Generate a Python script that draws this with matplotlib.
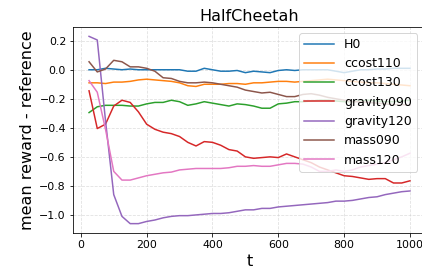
import numpy as np
import matplotlib
matplotlib.use("Agg")
import matplotlib.pyplot as plt

# timesteps (every 25)
t = [25, 50, 75, 100, 125, 150, 175, 200, 225, 250, 275, 300, 325, 350, 375, 400,
     425, 450, 475, 500, 525, 550, 575, 600, 625, 650, 675, 700, 725, 750, 775, 800,
     825, 850, 875, 900, 925, 950, 975, 1000]

h0 = [0.0, 0.0, 0.01, 0.005, 0.0, 0.005, 0.0, 0.0, 0.0, 0.0, 0.0, 0.0, -0.01, -0.01,
      0.01, 0.0, -0.01, -0.01, -0.005, -0.02, -0.01, -0.015, -0.02, -0.005, 0.0, -0.005,
      0.0, 0.0, 0.0, 0.0, -0.01, -0.02, -0.01, 0.0, 0.0, 0.005, 0.005, 0.01, 0.01, 0.01]
ccost110 = [-0.09, -0.09, -0.095, -0.085, -0.085, -0.08, -0.07, -0.065, -0.07, -0.075,
            -0.08, -0.09, -0.11, -0.115, -0.1, -0.1, -0.1, -0.095, -0.095, -0.1, -0.09,
            -0.09, -0.085, -0.08, -0.08, -0.085, -0.08, -0.075, -0.07, -0.065, -0.07,
            -0.075, -0.08, -0.085, -0.09, -0.09, -0.095, -0.1, -0.105, -0.11]
ccost130 = [-0.295, -0.255, -0.245, -0.245, -0.245, -0.25, -0.25, -0.235, -0.225, -0.225,
            -0.21, -0.22, -0.245, -0.235, -0.22, -0.23, -0.24, -0.25, -0.235, -0.24,
            -0.25, -0.265, -0.265, -0.235, -0.23, -0.22, -0.22, -0.215, -0.21, -0.21,
            -0.215, -0.22, -0.22, -0.215, -0.21, -0.215, -0.22, -0.22, -0.215, -0.21]
gravity090 = [-0.145, -0.405, -0.375, -0.25, -0.21, -0.225, -0.29, -0.375, -0.41, -0.43,
              -0.44, -0.46, -0.5, -0.525, -0.495, -0.5, -0.52, -0.55, -0.56, -0.6, -0.61,
              -0.605, -0.6, -0.605, -0.58, -0.6, -0.62, -0.64, -0.67, -0.69, -0.71, -0.73,
              -0.735, -0.745, -0.755, -0.75, -0.75, -0.78, -0.78, -0.765]
gravity120 = [0.23, 0.205, -0.35, -0.86, -1.01, -1.06, -1.06, -1.045, -1.035, -1.02, -1.01,
              -1.005, -1.005, -1.0, -0.995, -0.99, -0.99, -0.985, -0.975, -0.965, -0.965,
              -0.955, -0.955, -0.945, -0.94, -0.935, -0.93, -0.925, -0.92, -0.915, -0.905,
              -0.905, -0.9, -0.89, -0.88, -0.875, -0.86, -0.85, -0.84, -0.835]
mass090 = [0.055, -0.015, 0.005, 0.065, 0.055, 0.02, 0.02, 0.01, -0.01, -0.055, -0.06,
           -0.08, -0.09, -0.09, -0.085, -0.09, -0.1, -0.11, -0.12, -0.14, -0.15, -0.16,
           -0.155, -0.17, -0.185, -0.185, -0.17, -0.165, -0.175, -0.19, -0.2, -0.21,
           -0.22, -0.22, -0.225, -0.23, -0.235, -0.24, -0.24, -0.245]
mass120 = [-0.075, -0.155, -0.41, -0.70, -0.76, -0.76, -0.745, -0.73, -0.72, -0.71, -0.705,
           -0.69, -0.685, -0.68, -0.68, -0.68, -0.68, -0.675, -0.665, -0.665, -0.66, -0.665,
           -0.665, -0.655, -0.645, -0.645, -0.65, -0.67, -0.70, -0.70, -0.69, -0.70, -0.69,
           -0.67, -0.66, -0.65, -0.64, -0.62, -0.60, -0.575]

series = [("H0", h0), ("ccost110", ccost110), ("ccost130", ccost130),
          ("gravity090", gravity090), ("gravity120", gravity120),
          ("mass090", mass090), ("mass120", mass120)]

W, H = 422, 277
fig = plt.figure(figsize=(W / 72, H / 72), dpi=72)
ax = fig.add_axes([73 / W, 44 / H, 353 / W, 206 / H])

for name, vals in series:
    ax.plot(t, vals, label=name, linewidth=1.5)

ax.grid(True, linestyle='--', color='#cccccc', alpha=0.6)
ax.tick_params(labelsize=11)
ax.set_title("HalfCheetah", fontsize=16)
ax.set_xlabel("t", fontsize=16)
ax.set_ylabel("mean reward - reference", fontsize=16)
# legend pinned so its right border stays inside the picture, like the original
ax.legend(loc='upper right', fontsize=12.5, handlelength=2.4,
          bbox_to_anchor=(417 / W, 1 - 33 / H), bbox_transform=fig.transFigure,
          borderaxespad=0)

fig.savefig("out.png", dpi=72)
